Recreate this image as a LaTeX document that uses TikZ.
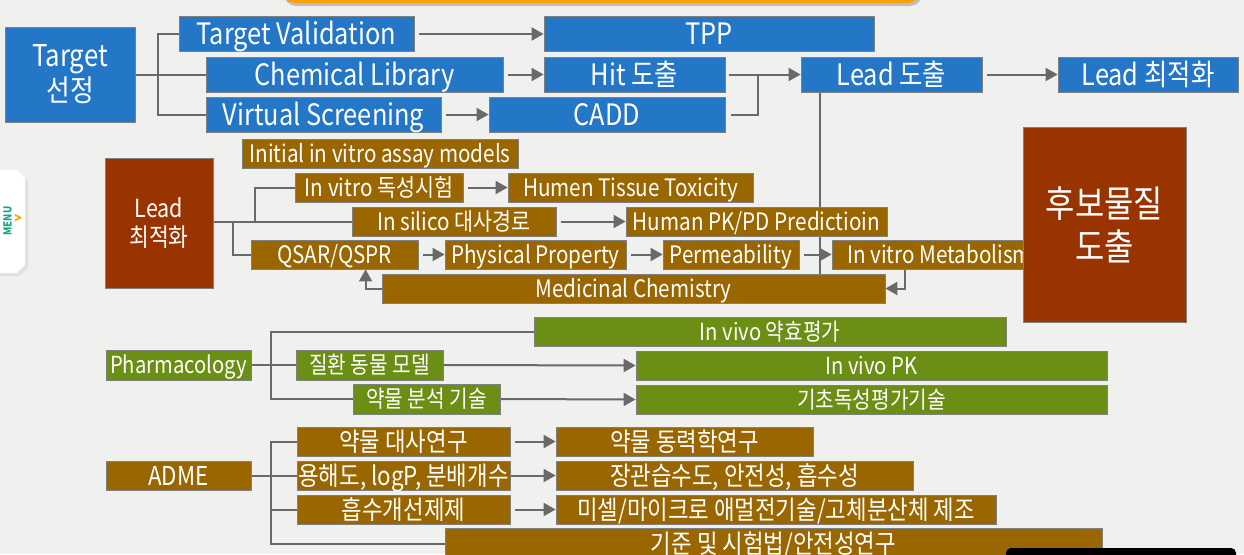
\documentclass[tikz,border=0pt]{standalone}
\usepackage{fontspec}
\setmainfont[FakeStretch=0.86]{Noto Sans CJK KR}
\usetikzlibrary{positioning,arrows.meta,backgrounds}
\definecolor{pagegray}{RGB}{240,240,238}
\definecolor{stepblue}{RGB}{36,118,198}
\definecolor{leadbrown}{RGB}{153,102,0}
\definecolor{leadred}{RGB}{153,51,0}
\definecolor{pharmgreen}{RGB}{107,142,20}
\definecolor{edgegray}{RGB}{128,128,128}
\definecolor{linkgray}{RGB}{105,105,105}
\definecolor{tabteal}{RGB}{20,160,126}
\definecolor{taborange}{RGB}{250,160,10}
\tikzset{
    % box styles
    basebox/.style={
        rectangle, draw=edgegray, line width=0.8pt, text=white,
        inner sep=0pt, align=center, text depth=0pt
    },
    bluebox/.style={
        basebox, fill=stepblue, minimum height=35pt, text height=21.5pt,
        font=\fontsize{29.5}{35}\selectfont
    },
    brownbox/.style={
        basebox, fill=leadbrown, minimum height=29pt, text height=17.6pt,
        font=\fontsize{24}{28}\selectfont
    },
    redbox/.style={
        rectangle, draw=edgegray, line width=0.8pt, text=white,
        inner sep=0pt, align=center, fill=leadred
    },
    greenbox/.style={
        basebox, fill=pharmgreen, minimum height=29pt, text height=17.2pt,
        font=\fontsize{23.5}{26}\selectfont
    },
    admebox/.style={
        brownbox, text height=19pt, font=\fontsize{26}{28}\selectfont
    },
    link/.style={
        draw=linkgray, line width=2pt
    },
    arrow/.style={
        link, -{Triangle[length=12pt,width=13pt]}, shorten <=5pt
    }
}

\begin{document}
\begin{tikzpicture}[x=1pt, y=-1pt]

\useasboundingbox (0,0) rectangle (1244,554);

% Target row
\node[redbox, fill=stepblue, minimum width=130pt, minimum height=95pt, font=\fontsize{30}{35}\selectfont] (tsel) at (70,74.5) {Target\\선정};
\node[bluebox, minimum width=235pt] (tval) at (296.5,34) {Target Validation};
\node[bluebox, minimum width=330pt] (tpp) at (709,34) {TPP};
\node[bluebox, minimum width=297pt] (chemlib) at (354.5,74.5) {Chemical Library};
\node[bluebox, minimum width=181pt] (hit) at (634.5,74.5) {Hit 도출};
\node[bluebox, minimum width=235pt] (vscreen) at (323.5,114.5) {Virtual Screening};
\node[bluebox, minimum width=236pt] (cadd) at (607,114.5) {CADD};
\node[bluebox, minimum width=181pt] (leadgen) at (891.5,74.5) {Lead 도출};
\node[bluebox, minimum width=180pt] (leadtop) at (1148,74.5) {Lead 최적화};

% Lead optimisation block
\node[redbox, minimum width=108pt, minimum height=130pt, font=\fontsize{25}{29}\selectfont] (leadopt) at (159,223) {Lead\\최적화};
\node[brownbox, minimum width=276pt] (initial) at (380,153.5) {Initial in vitro assay models};
\node[brownbox, minimum width=168pt] (vtox) at (379,187.5) {In vitro 독성시험};
\node[brownbox, minimum width=245pt] (tissue) at (630.5,187.5) {Humen Tissue Toxicity};
\node[brownbox, minimum width=204pt] (insilico) at (454,221.5) {In silico 대사경로};
\node[brownbox, minimum width=261pt] (pkpd) at (756.5,221.5) {Human PK/PD Predictioin};
\node[brownbox, minimum width=167pt] (qsar) at (334.5,254.5) {QSAR/QSPR};
\node[brownbox, minimum width=181pt] (physprop) at (535.5,254.5) {Physical Property};
\node[brownbox, minimum width=136pt] (perm) at (731,254.5) {Permeability};
\node[brownbox, minimum width=215pt] (vmetab) at (939.5,254.5) {In vitro Metabolism};
\node[brownbox, minimum width=503pt] (medchem) at (633.5,288.5) {Medicinal Chemistry};
\node[redbox, minimum width=163pt, minimum height=195pt, font=\fontsize{37}{43}\selectfont] (cand) at (1104.5,224.5) {후보물질\\도출};

% Pharmacology block
\node[greenbox, minimum width=472pt] (efficacy) at (770,331.5) {In vivo 약효평가};
\node[greenbox, minimum width=145pt, minimum height=30pt] (pharm) at (178.5,365) {Pharmacology};
\node[greenbox, minimum width=147pt, minimum height=30pt] (model) at (369.5,365) {질환 동물 모델};
\node[greenbox, minimum width=471pt] (vivopk) at (871.5,365.5) {In vivo PK};
\node[greenbox, minimum width=147pt, minimum height=30pt] (analysis) at (426.5,399) {약물 분석 기술};
\node[greenbox, minimum width=471pt] (basetox) at (871.5,399.5) {기초독성평가기술};

% ADME block
\node[admebox, minimum width=145pt] (adme) at (178.5,475.5) {ADME};
\node[admebox, minimum width=213pt] (metab) at (403.5,441.5) {약물 대사연구};
\node[admebox, minimum width=213pt] (solub) at (403.5,475.5) {용해도, logP, 분배개수};
\node[admebox, minimum width=213pt] (absorb) at (403.5,509.5) {흡수개선제제};
\node[admebox, minimum width=257pt] (pkstudy) at (684.5,441.5) {약물 동력학연구};
\node[admebox, minimum width=357pt] (intest) at (734.5,475.5) {장관습수도, 안전성, 흡수성};
\node[admebox, minimum width=440pt] (micelle) at (776,509.5) {미셀/마이크로 애멀전기술/고체분산체 제조};
\node[admebox, minimum width=657pt, minimum height=31pt] (standard) at (773.5,543.5) {기준 및 시험법/안전성연구};

% page parts cut by the frame
\fill[black!25, rounded corners=12pt] (284,-30) rectangle (922,6);
\fill[taborange, rounded corners=12pt] (282,-30) rectangle (920,3);
\fill[black, rounded corners=5pt] (1006,548) rectangle (1236,590);
\fill[black!12] (0,172) -- (19,172) -- (28,181) -- (28,268) -- (19,276) -- (0,276) -- cycle;
\fill[white] (0,170) -- (17,170) -- (25,178) -- (25,265) -- (17,273) -- (0,273) -- cycle;
\node[rotate=90, text=tabteal, font=\bfseries\fontsize{11}{11}\selectfont] (menu) at (7.5,221) {MENU};
\node[text=taborange, font=\bfseries\fontsize{14}{14}\selectfont] (menuarrow) at (18,219) {>};

\begin{scope}[on background layer]
\fill[pagegray] (0,0) rectangle (1244,554);

% Target connectors
\coordinate (tbus) at (158,74.5);
\draw[link] (tsel.east) -- (chemlib.west);
\draw[link] (tval.west) -| (tbus |- vscreen.west) -- (vscreen.west);
\draw[arrow] (tval.east) -- (tpp.west);
\draw[arrow] (chemlib.east) -- (hit.west);
\draw[arrow] (vscreen.east) -- (cadd.west);
\coordinate (hitjoin) at (758,74.5);
\draw[link, shorten <=4pt] (hit.east) -- (hitjoin);
\draw[link, shorten <=6pt] (cadd.east) -| (hitjoin);
\draw[arrow, shorten <=0pt] (hitjoin) -- (leadgen.west);
\draw[arrow] (leadgen.east) -- (leadtop.west);
\draw[link] ([xshift=19pt]leadgen.south west) -- ([xshift=19pt]leadgen.south west |- medchem.north);

% Lead optimisation connectors
\coordinate (lbus1) at (233,221.5);
\coordinate (lbus2) at (255,221.5);
\draw[link] (leadopt.east |- insilico.west) -- (insilico.west);
\draw[link] (lbus2) |- (vtox.west);
\draw[link] (lbus1) |- (qsar.west);
\draw[arrow] (vtox.east) -- (tissue.west);
\draw[arrow] (insilico.east) -- (pkpd.west);
\draw[arrow] (qsar.east) -- (physprop.west);
\draw[arrow] (physprop.east) -- (perm.west);
\draw[arrow] (perm.east) -- (vmetab.west);
\draw[arrow, shorten <=0pt] ([xshift=73pt]vmetab.south west) |- (medchem.east);
\draw[arrow, shorten <=0pt] (medchem.west) -| ([xshift=115pt]qsar.south west);

% Pharmacology connectors
\coordinate (pbus) at (271,365);
\draw[link] (pharm.east) -- (model.west);
\draw[link] (efficacy.west) -| (pbus |- analysis.west) -- (analysis.west);
\draw[arrow, shorten <=0pt] (model.east) -- (vivopk.west);
\draw[arrow, shorten <=0pt] (analysis.east) -- (basetox.west);

% ADME connectors
\coordinate (abus) at (271,475.5);
\draw[link] (adme.east) -- (solub.west);
\draw[link] (metab.west) -| (abus |- standard.west) -- (standard.west);
\draw[link] (abus |- absorb.west) -- (absorb.west);
\draw[arrow] (metab.east) -- (pkstudy.west);
\draw[arrow, shorten <=0pt] (solub.east) -- (intest.west);
\draw[arrow] (absorb.east) -- (micelle.west);
\end{scope}

\end{tikzpicture}
\end{document}
